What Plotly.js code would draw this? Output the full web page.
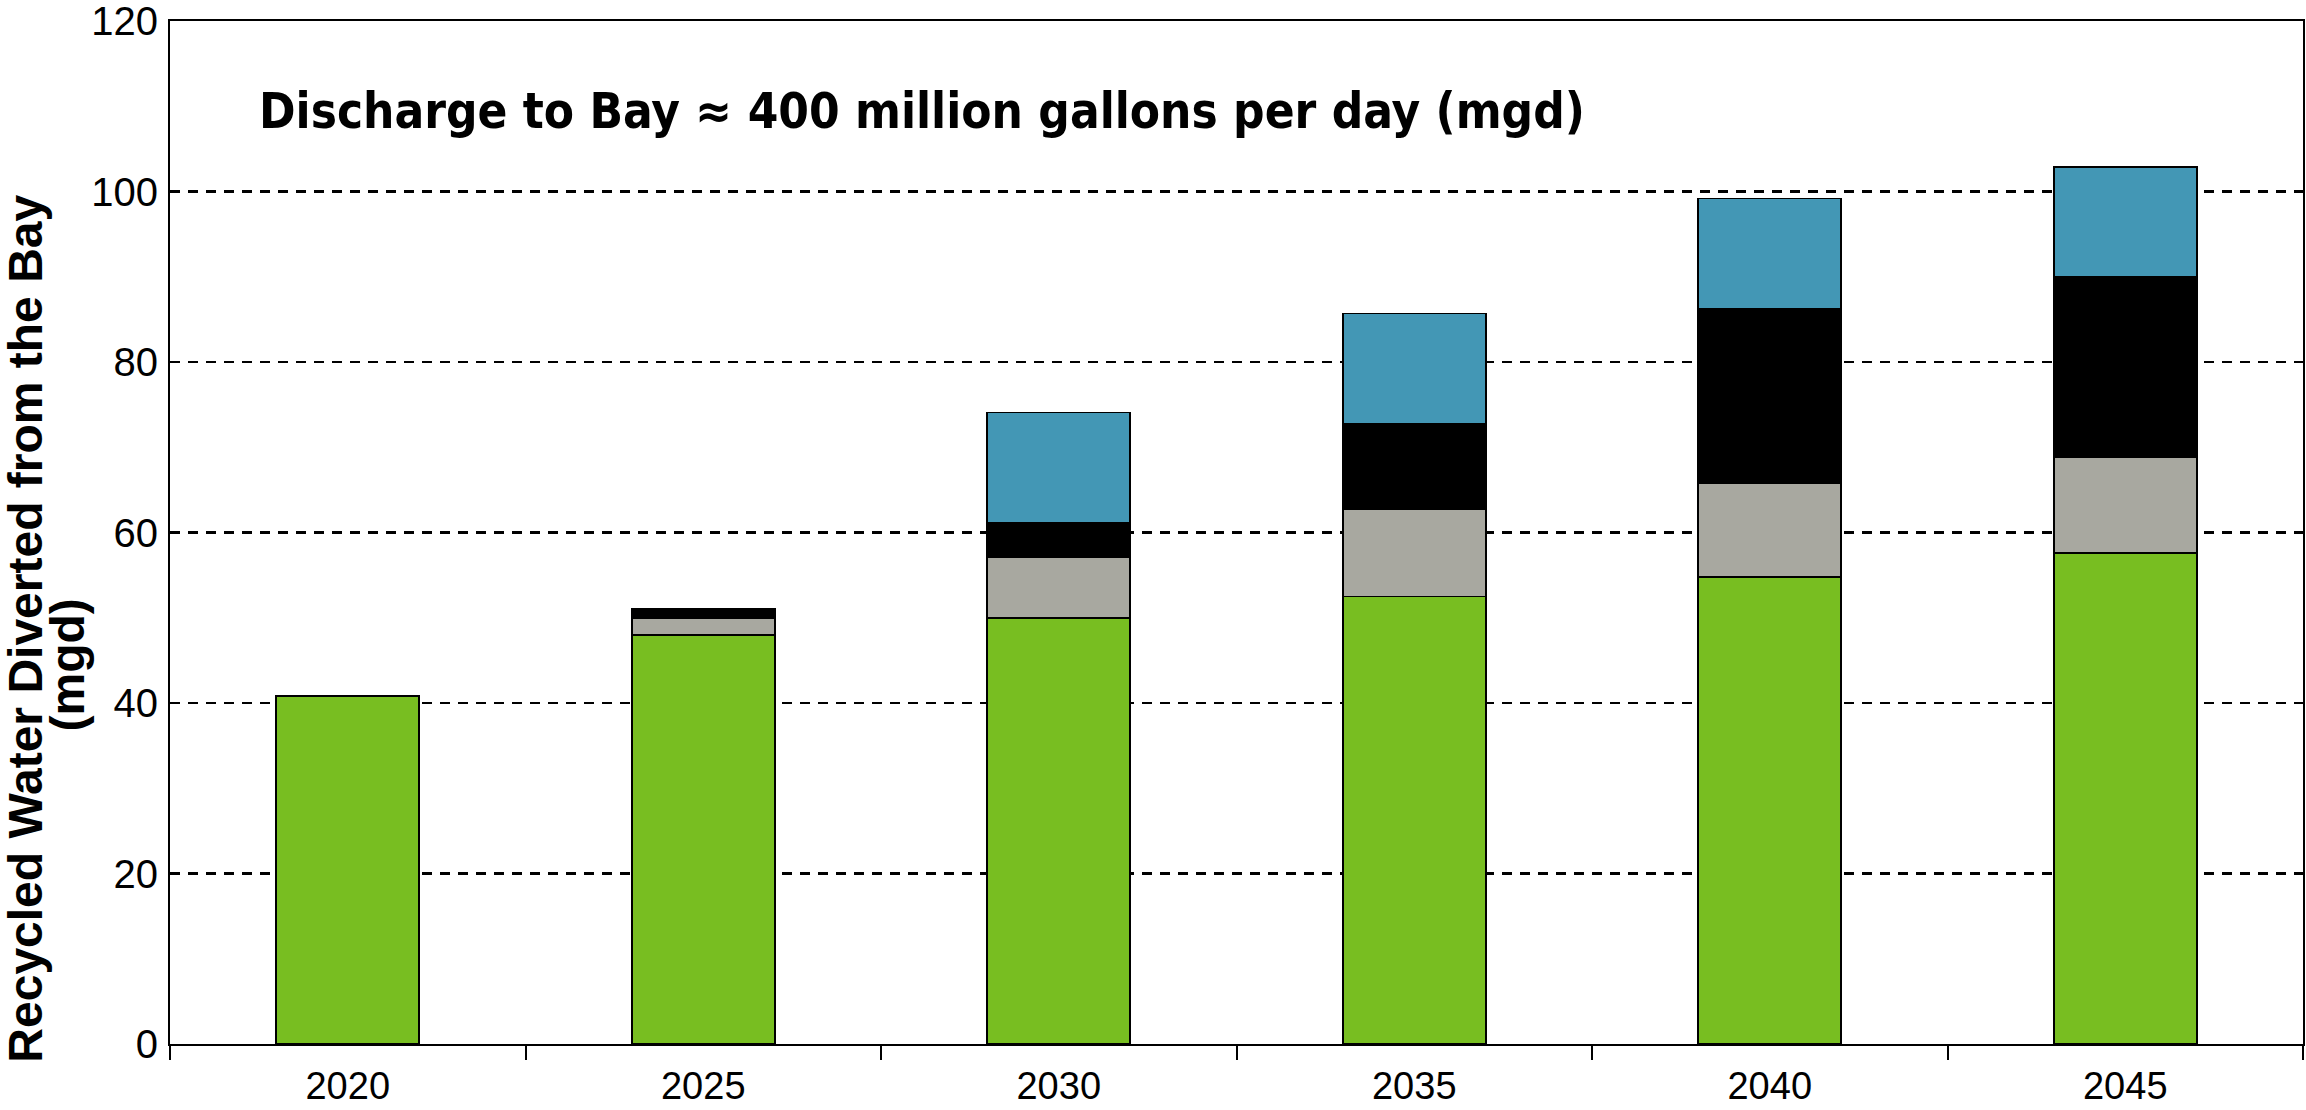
<!DOCTYPE html>
<html>
<head>
<meta charset="utf-8">
<script src="https://cdn.plot.ly/plotly-3.0.1.min.js"></script>
<style>html,body{margin:0;padding:0;background:#fff;}#chart{width:2306px;height:1110px;}</style>
</head>
<body>
<div id="chart"></div>
<script>
const years = ['2020', '2025', '2030', '2035', '2040', '2045'];
const greenVals = [40.8, 48.0, 50.0, 52.5, 54.8, 57.6];
const greyVals  = [0, 2.0, 7.1, 10.3, 11.0, 11.2];
const blackVals = [0, 1.1, 4.0, 9.9, 20.5, 21.2];
const blueVals  = [0, 0, 13.0, 13.0, 12.9, 12.9];
const seriesColors = ['#78BE21', '#A8A8A0', '#000000', '#4397B5'];
const yTicks = [0, 20, 40, 60, 80, 100, 120];
const titleText = 'Discharge to Bay \u2248 400 million gallons per day (mgd)';
const yTitle1 = 'Recycled Water Diverted from the Bay';
const yTitle2 = '(mgd)';

const seriesVals = [greenVals, greyVals, blackVals, blueVals];
const traces = seriesVals.map((v, i) => ({
  type: 'bar',
  x: years,
  y: v,
  marker: {color: seriesColors[i], line: {color: '#000', width: 1.8}},
  hoverinfo: 'x+y',
  showlegend: false
}));

const layout = {
  width: 2306, height: 1110,
  margin: {l: 170, r: 3, t: 21, b: 66},
  paper_bgcolor: '#fff', plot_bgcolor: '#fff',
  barmode: 'stack',
  bargap: 0.597,
  font: {family: 'Liberation Sans, Arial, sans-serif', color: '#000'},
  xaxis: {
    type: 'category',
    showline: true, linecolor: '#000', linewidth: 2, mirror: true,
    ticks: 'outside', tickson: 'boundaries', ticklen: 14, tickwidth: 2, tickcolor: '#000',
    ticklabelstandoff: 7,
    tickfont: {size: 38, family: 'Liberation Sans, Arial, sans-serif', color: '#000'},
    showgrid: false
  },
  yaxis: {
    range: [0, 120.02],
    tickvals: yTicks,
    ticktext: yTicks.map(String),
    showline: true, linecolor: '#000', linewidth: 2, mirror: true,
    ticks: '',
    ticklabelstandoff: 2,
    ticklabeloverflow: 'allow',
    tickfont: {size: 40, family: 'Liberation Sans, Arial, sans-serif', color: '#000'},
    showgrid: true, gridcolor: '#000', gridwidth: 2.5, griddash: '10px,8px',
    zeroline: false
  },
  annotations: [
    {text: '<b>' + titleText + '</b>', xref: 'paper', yref: 'paper', x: 0.041, y: 0.912,
     xanchor: 'left', yanchor: 'middle', showarrow: false,
     font: {size: 49, family: 'DejaVu Sans Condensed, Liberation Sans Narrow, Arial Narrow, sans-serif', color: '#000'}},
    {text: '<b>' + yTitle1 + '</b>', xref: 'paper', yref: 'paper', x: 0, y: 0.406, xshift: -144,
     xanchor: 'center', yanchor: 'middle', textangle: -90, showarrow: false,
     font: {size: 48, family: 'Liberation Sans, Arial, sans-serif', color: '#000'}},
    {text: '<b>' + yTitle2 + '</b>', xref: 'paper', yref: 'paper', x: 0, y: 0.370, xshift: -103,
     xanchor: 'center', yanchor: 'middle', textangle: -90, showarrow: false,
     font: {size: 48, family: 'Liberation Sans, Arial, sans-serif', color: '#000'}}
  ]
};

Plotly.newPlot('chart', traces, layout, {displayModeBar: false, staticPlot: true});
</script>
</body>
</html>
